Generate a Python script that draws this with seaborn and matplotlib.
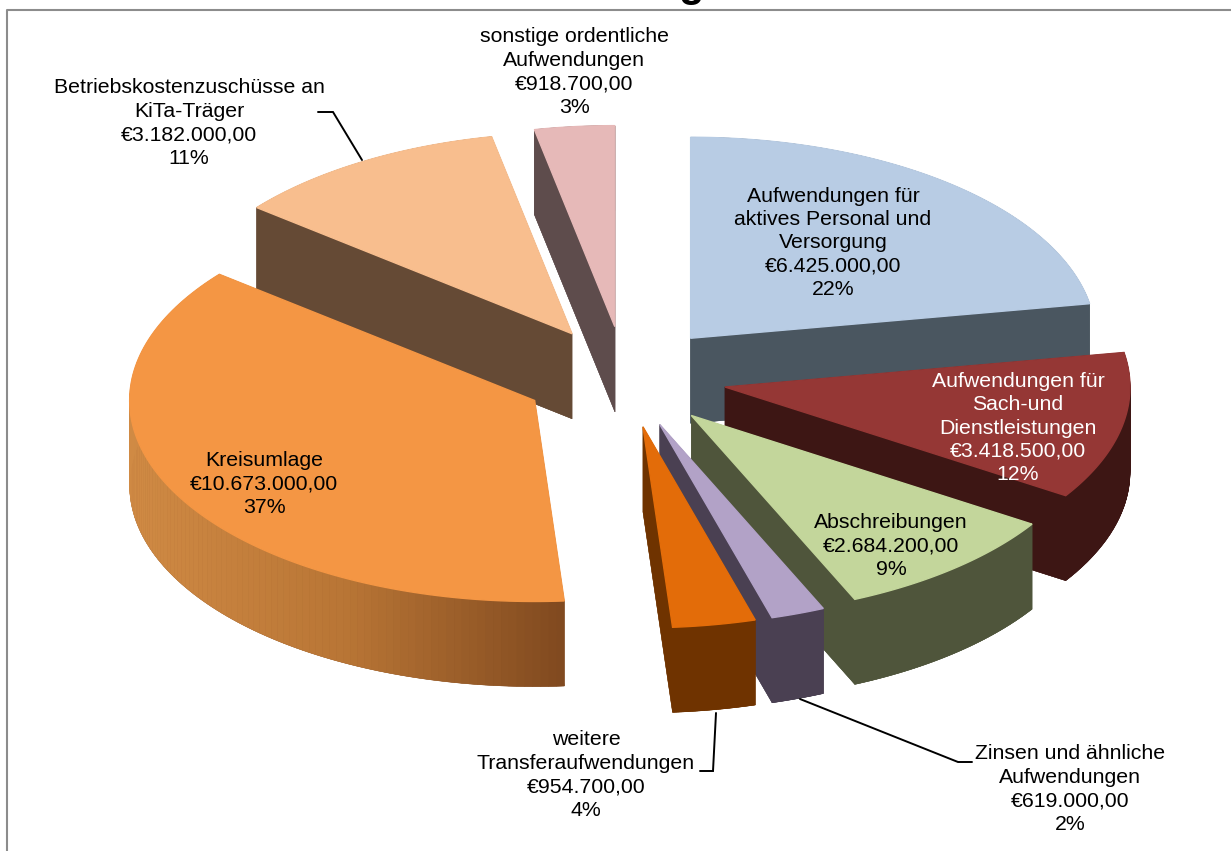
import matplotlib
matplotlib.use("Agg")
import matplotlib.pyplot as plt
import numpy as np
import seaborn as sns

categories = [
    "Aufwendungen für\naktives Personal und\nVersorgung",
    "Aufwendungen für\nSach-und\nDienstleistungen",
    "Abschreibungen",
    "Zinsen und ähnliche\nAufwendungen",
    "weitere\nTransferaufwendungen",
    "Kreisumlage",
    "Betriebskostenzuschüsse an\nKiTa-Träger",
    "sonstige ordentliche\nAufwendungen",
]
values = [6425000, 3418500, 2684200, 619000, 954700, 10673000, 3182000, 918700]
amounts = [
    "€6.425.000,00", "€3.418.500,00", "€2.684.200,00", "€619.000,00",
    "€954.700,00", "€10.673.000,00", "€3.182.000,00", "€918.700,00",
]
percents = ["22%", "12%", "9%", "2%", "4%", "37%", "11%", "3%"]

top_colors = ["#b8cce4", "#953735", "#c3d69b", "#b2a2c7", "#e36c09", "#f49644", "#f8be8e", "#e6b9b8"]
side_colors = ["#4a5660", "#3d1614", "#4f553b", "#4a4052", "#6f3300", "#80491f", "#654a35", "#5e4c4c"]

# pixel geometry of the tilted pie
cx, cy = 625, 377
rx, ry = 405, 201
explode = 102
depth = 85

# back to front
draw_order = [7, 6, 0, 1, 5, 2, 3, 4]

label_pos = [(833, 243), (1018, 428), (891, 546), (1070, 789),
             (586, 775), (264, 484), (189, 123), (574, 72)]
label_colors = ["black", "white", "black", "black", "black", "black", "black", "black"]

leaders = {
    3: [(800, 699), (958, 762), (972, 762)],
    4: [(700, 771), (713, 771), (716, 713)],
    6: [(318, 112), (333, 112), (362, 160)],
}

sns.set_theme(style="white")
plt.rcParams["font.family"] = ["Liberation Sans", "DejaVu Sans"]

fig = plt.figure(figsize=(12.31, 8.51), dpi=100)
ax = fig.add_axes([0, 0, 1, 1])
ax.set_xlim(0, 1231)
ax.set_ylim(851, 0)
ax.axis("off")

shares = np.array(values) / sum(values)
edges = np.concatenate([[0], np.cumsum(shares)]) * 2 * np.pi

for i in draw_order:
    a0, a1 = edges[i], edges[i + 1]
    mid = (a0 + a1) / 2
    ox = cx + explode * np.sin(mid)
    oy = cy - explode * ry / rx * np.cos(mid)
    ang = np.linspace(a0, a1, 120)
    xs = np.concatenate([[ox], ox + rx * np.sin(ang)])
    ys = np.concatenate([[oy], oy - ry * np.cos(ang)])

    # floor and the two cut faces
    ax.fill(xs, ys + depth, color=side_colors[i], lw=0.3)
    for k in (1, -1):
        ax.fill([xs[0], xs[k], xs[k], xs[0]],
                [ys[0], ys[k], ys[k] + depth, ys[0] + depth],
                color=side_colors[i], lw=0.3)

    # outer wall, the big slice fades from left to right
    if i == 5:
        shades = sns.blend_palette(["#d08a44", "#b87535", "#80491f"], 256)
    else:
        shades = [side_colors[i]]
    for j in range(1, len(xs) - 1):
        t = ((xs[j] + xs[j + 1]) / 2 - xs[1:].min()) / (xs[1:].max() - xs[1:].min())
        col = shades[int(t * (len(shades) - 1))]
        ax.fill([xs[j], xs[j + 1], xs[j + 1], xs[j]],
                [ys[j], ys[j + 1], ys[j + 1] + depth, ys[j] + depth],
                color=col, lw=0.4)

    ax.fill(xs, ys, color=top_colors[i], lw=1.0)

for i, pts in leaders.items():
    ax.plot(*zip(*pts), color="black", lw=1.4, solid_joinstyle="miter")

for i, (x, y) in enumerate(label_pos):
    ax.text(x, y, f"{categories[i]}\n{amounts[i]}\n{percents[i]}",
            ha="center", va="center", fontsize=15.3, linespacing=1.29,
            color=label_colors[i])

# chart frame, the title is cut off by the top of the image
ax.plot([7, 7, 1231], [851, 10, 10], color="#8c8c8c", lw=1.5)
ax.text(691, -15, "g", ha="center", va="center", fontsize=30, fontweight="bold", color="black")

fig.savefig("out.png", dpi=100)
